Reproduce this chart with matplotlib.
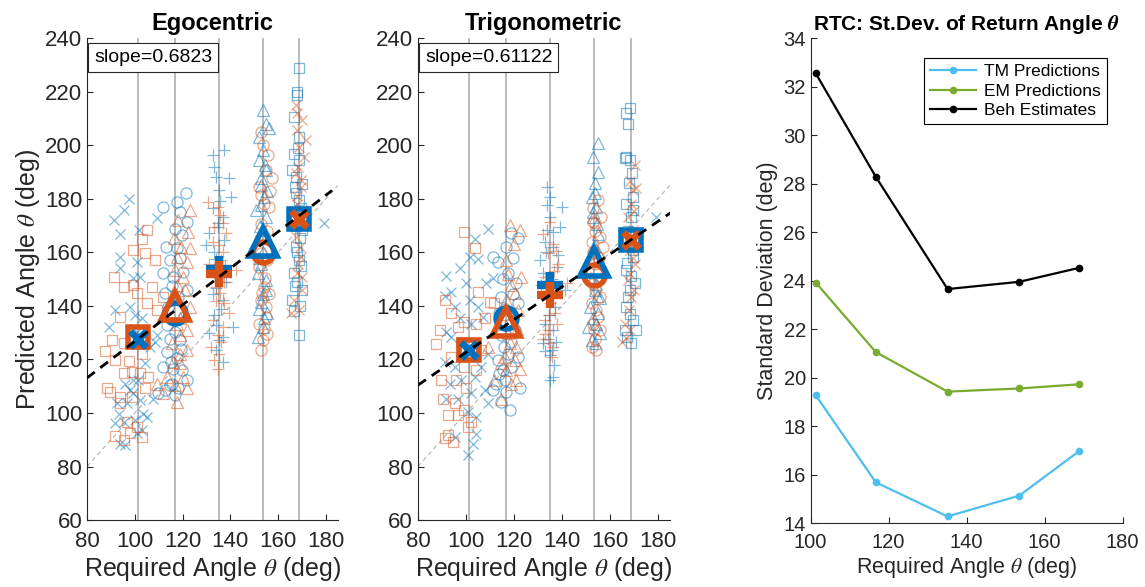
import matplotlib
matplotlib.use("Agg")

import matplotlib.pyplot as plt

plt.rcParams["font.family"] = ["Liberation Sans", "DejaVu Sans"]
plt.rcParams["mathtext.fontset"] = "stix"

BLUE = "#0072BD"
ORANGE = "#D95319"
AXIS_GREY = "#262626"

# required return angles (deg) for the five trial conditions
REQ_ANGLE = [101.3, 116.7, 135.1, 153.5, 168.7]
BLUE_MARKERS = ["x", "o", "+", "^", "s"]
ORANGE_MARKERS = ["s", "^", "+", "o", "x"]

# --- Egocentric model: per-trial (required, predicted) angles ---
EGO_BLUE = [
    [(97.4, 179.8), (95.3, 175.8), (91.1, 172.0), (93.9, 167.0), (101.9, 168.3), (109.4, 172.7),
     (93.9, 158.4), (93.9, 154.0), (100.8, 156.5), (91.8, 138.4), (89.0, 132.2), (97.8, 139.7),
     (100.1, 136.6), (102.2, 150.9), (99.4, 150.3), (106.4, 124.7), (108.5, 126.6), (104.3, 118.5),
     (96.0, 111.0), (99.4, 112.3), (92.5, 103.6), (93.2, 99.8), (96.7, 103.6), (99.4, 107.3),
     (102.2, 104.8), (103.6, 99.8), (100.1, 97.3), (95.3, 96.7), (91.8, 96.1), (93.9, 88.6),
     (96.0, 88.0), (102.9, 93.6), (100.8, 92.4), (105.0, 98.6), (107.8, 105.4), (101.5, 112.3),
     (100.8, 130.3), (98.0, 108.5), (109.2, 129.1), (102.9, 135.3), (179.2, 170.8)],
    [(121.4, 182.3), (117.5, 178.9), (111.9, 177.0), (118.9, 175.2), (121.7, 171.4), (116.8, 168.9),
     (119.6, 166.4), (117.5, 161.5), (114.7, 157.1), (111.9, 152.1), (116.1, 150.9), (121.7, 145.9),
     (112.6, 144.7), (118.2, 143.4), (114.0, 139.7), (116.8, 130.3), (114.7, 127.8), (118.9, 127.2),
     (113.3, 122.9), (117.5, 120.4), (111.9, 117.3), (116.1, 116.6), (119.6, 116.0), (115.4, 111.0),
     (112.6, 108.5), (116.8, 106.7), (114.7, 110.4), (121.7, 112.3), (109.9, 107.3), (119.0, 158.0),
     (115.5, 147.5), (120.5, 136.0), (113.5, 133.0), (119.5, 124.0), (115.0, 119.0), (118.0, 109.5),
     (120.0, 152.5), (113.0, 162.0)],
    [(132.6, 196.3), (137.5, 198.2), (133.3, 191.9), (139.6, 187.6), (134.0, 188.2), (135.4, 183.2),
     (140.3, 180.7), (132.6, 176.4), (136.8, 173.3), (131.2, 167.1), (137.5, 164.6), (133.3, 160.2),
     (135.4, 152.1), (138.2, 149.0), (132.6, 144.6), (136.8, 142.1), (133.3, 136.5), (141.0, 132.2),
     (131.2, 129.7), (135.4, 127.2), (134.0, 123.5), (136.8, 119.1), (129.9, 162.7), (134.7, 169.5),
     (135.8, 179.0), (133.8, 157.5), (137.8, 155.0), (134.2, 146.5), (136.0, 139.0), (133.8, 133.0),
     (137.0, 128.5), (135.0, 171.0)],
    [(153.5, 213.1), (154.9, 208.1), (156.2, 206.3), (152.1, 203.2), (153.5, 198.2), (152.1, 194.4),
     (154.9, 190.7), (152.8, 187.6), (154.2, 180.7), (150.7, 175.8), (154.9, 173.3), (152.8, 155.8),
     (151.4, 152.1), (154.9, 149.6), (153.5, 144.6), (152.1, 139.0), (155.5, 137.2), (153.5, 132.2),
     (151.4, 128.4), (154.2, 135.3), (153.0, 185.0), (155.5, 183.0), (152.5, 170.0), (154.0, 168.5),
     (153.8, 160.0), (152.0, 158.0), (155.0, 146.0), (153.0, 141.5), (152.8, 177.5), (154.5, 192.5)],
    [(168.7, 228.7), (168.1, 220.0), (168.1, 218.7), (166.7, 210.6), (168.7, 203.2), (166.7, 196.9),
     (168.7, 194.4), (166.0, 190.7), (170.1, 185.7), (167.4, 182.0), (168.7, 179.5), (166.7, 173.3),
     (170.1, 168.3), (167.4, 162.1), (168.7, 157.1), (166.7, 152.1), (170.1, 145.9), (166.0, 142.1),
     (168.7, 129.1), (168.1, 149.0), (167.5, 188.0), (169.5, 176.5), (167.0, 170.0), (169.0, 165.5),
     (167.8, 160.0), (169.5, 155.0), (167.0, 147.5), (169.0, 140.0), (166.5, 138.0), (168.3, 199.0),
     (167.2, 184.5)],
]
EGO_ORANGE = [
    [(105.0, 168.3), (102.9, 164.8), (99.4, 160.8), (104.3, 159.6), (108.5, 157.1), (91.1, 150.9),
     (95.3, 147.1), (100.8, 144.7), (107.1, 147.1), (99.4, 147.8), (105.0, 140.9), (93.9, 135.9),
     (109.2, 138.4), (90.4, 127.2), (95.3, 126.2), (87.6, 123.1), (91.8, 119.7), (97.4, 119.5),
     (102.9, 122.2), (95.3, 115.0), (98.8, 115.4), (102.2, 114.8), (105.7, 113.5), (88.3, 109.5),
     (89.7, 107.9), (104.3, 109.5), (93.9, 103.6), (98.8, 106.1), (96.7, 96.7), (98.0, 92.6),
     (100.8, 94.8), (102.9, 90.9), (91.8, 91.4), (95.3, 89.9), (111.9, 143.4), (93.9, 106.1)],
    [(123.0, 175.8), (118.2, 172.0), (122.4, 167.7), (116.4, 165.2), (123.0, 161.5), (117.5, 158.4),
     (121.7, 156.5), (116.8, 153.4), (120.3, 150.9), (117.5, 147.8), (123.0, 139.7), (117.5, 133.4),
     (118.9, 129.1), (121.7, 123.5), (116.1, 119.1), (118.9, 118.5), (113.3, 113.5), (109.2, 111.0),
     (111.9, 107.3), (121.7, 109.2), (117.5, 104.2), (120.3, 113.5), (119.5, 162.0), (116.0, 144.0),
     (121.0, 146.0), (119.0, 135.5), (122.0, 131.0), (115.5, 126.0), (119.0, 122.0), (117.0, 110.5)],
    [(130.6, 178.9), (134.7, 177.0), (136.8, 170.8), (133.3, 169.5), (138.2, 167.1), (132.6, 163.9),
     (136.1, 157.1), (142.4, 153.3), (134.0, 147.1), (137.5, 140.9), (132.6, 134.7), (136.8, 132.2),
     (134.7, 129.1), (131.9, 124.7), (135.4, 122.2), (133.3, 119.7), (139.6, 137.2), (135.4, 162.7),
     (131.2, 155.8), (135.5, 174.0), (137.0, 160.0), (133.6, 152.0), (135.8, 145.0), (134.0, 142.0),
     (136.2, 126.5), (134.8, 116.5), (137.5, 149.0)],
    [(152.8, 205.0), (154.9, 190.7), (157.6, 187.6), (152.1, 184.5), (154.2, 178.2), (156.2, 177.0),
     (152.8, 159.6), (155.5, 157.1), (152.1, 154.6), (154.2, 147.1), (156.2, 144.6), (152.8, 142.1),
     (154.9, 139.7), (152.1, 133.4), (154.2, 131.6), (153.5, 127.2), (152.8, 123.5), (154.9, 135.9),
     (153.5, 200.0), (155.8, 196.5), (153.0, 170.5), (155.5, 168.0), (152.5, 165.0), (154.5, 150.5),
     (153.2, 145.0), (155.2, 129.5), (153.0, 181.5), (156.5, 183.0)],
    [(167.4, 215.0), (170.1, 209.4), (168.1, 205.6), (171.5, 201.9), (168.7, 199.4), (170.8, 195.7),
     (167.4, 189.5), (169.4, 184.5), (168.1, 178.2), (170.1, 173.3), (167.4, 165.8), (169.4, 158.4),
     (168.1, 152.1), (166.7, 142.1), (165.3, 137.2), (168.7, 138.4), (170.1, 150.9), (168.5, 192.0),
     (169.5, 187.0), (168.0, 181.0), (170.5, 176.0), (167.5, 170.0), (169.2, 162.0), (168.5, 155.5),
     (170.0, 146.0), (167.8, 212.0)],
]
EGO_BLUE_MEAN = [127.5, 137.2, 153.6, 164.0, 172.6]
EGO_ORANGE_MEAN = [128.3, 139.8, 151.8, 160.2, 172.3]
EGO_SLOPE = 0.6823
EGO_FIT_AT_80 = 113.1

# --- Trigonometric model ---
TRIG_BLUE = [
    [(109.4, 168.9), (103.6, 164.8), (101.5, 158.4), (105.0, 157.7), (97.4, 154.0), (91.8, 151.1),
     (100.1, 148.4), (108.5, 148.4), (111.3, 150.3), (93.9, 145.3), (91.1, 143.7), (101.5, 142.2),
     (95.3, 139.7), (105.0, 139.7), (97.4, 135.3), (91.8, 130.3), (102.2, 133.4), (107.1, 135.9),
     (93.9, 128.5), (102.9, 123.5), (109.2, 122.2), (91.1, 119.1), (95.3, 117.3), (106.4, 117.3),
     (98.0, 112.3), (103.6, 113.5), (93.2, 111.0), (91.8, 105.4), (96.7, 105.4), (102.2, 107.3),
     (109.2, 103.6), (100.8, 100.4), (104.3, 98.6), (104.3, 92.3), (102.9, 88.6), (100.8, 84.3),
     (95.3, 91.1), (107.8, 108.5), (179.4, 173.3)],
    [(118.9, 167.1), (121.7, 165.2), (116.8, 162.1), (111.3, 158.4), (113.3, 156.5), (117.5, 152.1),
     (121.0, 148.4), (114.7, 143.4), (121.7, 140.9), (114.0, 137.2), (118.2, 133.4), (114.7, 129.1),
     (118.9, 126.6), (113.3, 119.8), (117.5, 122.2), (121.7, 121.0), (115.4, 116.0), (112.6, 111.0),
     (116.8, 107.9), (114.7, 104.2), (118.2, 101.1), (122.4, 109.2), (111.3, 108.5), (116.1, 112.3),
     (119.5, 158.0), (115.5, 150.0), (119.5, 144.5), (116.5, 139.0), (120.5, 131.0), (116.0, 124.5),
     (119.0, 117.0), (114.0, 114.5)],
    [(133.6, 184.5), (135.0, 180.8), (133.6, 177.6), (139.9, 177.0), (139.2, 169.5), (135.0, 173.3),
     (132.9, 164.0), (136.4, 162.1), (130.8, 157.1), (138.5, 159.0), (132.2, 152.1), (141.2, 145.9),
     (134.3, 143.4), (137.1, 139.7), (132.9, 133.4), (136.4, 130.9), (134.3, 127.8), (132.2, 126.0),
     (135.7, 123.5), (135.0, 121.6), (136.4, 113.5), (135.0, 112.3), (137.8, 154.6), (131.5, 147.7),
     (136.5, 167.5), (134.0, 168.5), (133.5, 160.0), (136.0, 150.0), (134.8, 136.5), (133.0, 123.0),
     (136.8, 118.0), (137.5, 126.5)],
    [(155.1, 200.7), (153.1, 195.7), (155.1, 190.1), (153.8, 182.0), (152.4, 180.8), (154.4, 177.0),
     (153.1, 173.3), (155.1, 167.0), (153.8, 145.9), (155.8, 142.8), (151.7, 139.7), (155.1, 137.2),
     (151.0, 132.2), (154.4, 133.4), (155.8, 129.7), (152.4, 127.2), (153.8, 126.0), (154.0, 186.0),
     (152.8, 175.0), (154.8, 170.5), (153.5, 162.5), (155.0, 160.0), (152.5, 150.0), (154.2, 148.0),
     (153.0, 135.5), (154.6, 143.8)],
    [(168.3, 213.8), (166.9, 211.9), (167.6, 208.1), (166.9, 195.7), (168.3, 194.4), (166.3, 195.1),
     (169.7, 180.8), (166.9, 178.2), (169.0, 173.3), (168.3, 164.6), (169.7, 158.4), (166.9, 153.4),
     (170.4, 148.4), (168.3, 145.9), (166.9, 139.7), (169.7, 134.7), (166.3, 130.9), (171.1, 130.9),
     (169.0, 126.0), (167.6, 143.4), (168.0, 186.0), (169.5, 176.0), (167.5, 168.0), (169.8, 161.0),
     (167.0, 156.0), (168.8, 151.0), (168.5, 137.0), (167.3, 128.5), (169.2, 189.5)],
]
TRIG_ORANGE = [
    [(99.4, 167.7), (103.6, 161.5), (105.0, 145.3), (91.1, 142.2), (93.9, 137.2), (109.9, 141.5),
     (107.8, 135.3), (99.4, 134.1), (89.0, 130.9), (96.7, 132.2), (104.3, 133.4), (87.6, 125.7),
     (98.0, 126.6), (106.4, 123.5), (93.9, 121.0), (99.4, 117.3), (89.7, 112.5), (96.0, 112.3),
     (104.3, 116.0), (100.1, 109.2), (90.4, 105.4), (95.3, 103.6), (99.4, 101.1), (92.5, 99.2),
     (96.7, 99.2), (102.2, 96.7), (100.8, 94.8), (92.5, 91.7), (91.1, 90.5), (94.6, 89.2),
     (111.9, 140.9)],
    [(118.2, 170.2), (122.4, 168.3), (116.8, 157.1), (123.0, 150.9), (118.9, 147.8), (120.3, 144.7),
     (116.8, 142.2), (121.7, 138.4), (117.5, 129.7), (109.2, 124.7), (121.0, 124.7), (116.1, 121.0),
     (120.3, 119.8), (116.8, 116.0), (122.4, 116.6), (111.9, 112.3), (118.9, 111.0), (114.7, 105.4),
     (120.0, 163.0), (117.5, 152.0), (121.5, 131.5), (118.5, 126.0), (114.5, 118.5), (121.0, 112.5),
     (117.0, 137.0)],
    [(135.0, 171.4), (132.2, 167.0), (136.4, 163.3), (134.3, 159.6), (138.5, 155.8), (132.9, 150.9),
     (142.0, 148.4), (135.0, 140.9), (137.1, 137.2), (132.9, 134.7), (137.8, 133.4), (134.3, 130.9),
     (132.2, 127.8), (136.4, 124.7), (135.0, 126.0), (136.6, 153.0), (133.8, 146.5), (137.5, 145.0),
     (134.5, 136.5), (136.0, 121.0), (133.0, 129.5), (137.6, 160.5)],
    [(155.1, 179.5), (153.1, 176.4), (156.5, 173.3), (153.8, 170.8), (155.8, 165.8), (152.4, 164.0),
     (157.2, 162.1), (153.8, 145.9), (155.8, 143.4), (152.4, 140.9), (154.4, 138.4), (153.1, 133.4),
     (155.8, 130.9), (153.8, 127.8), (154.4, 123.5), (152.4, 124.7), (154.0, 168.0), (152.8, 160.0),
     (155.5, 158.0), (154.0, 155.5), (153.0, 148.0), (155.0, 136.0), (153.5, 131.0), (156.0, 150.0),
     (152.8, 171.5)],
    [(170.4, 192.6), (169.7, 183.2), (171.1, 183.9), (169.0, 178.2), (167.6, 173.3), (169.7, 168.3),
     (168.3, 160.8), (170.4, 155.8), (167.6, 149.6), (169.0, 143.4), (166.3, 133.4), (164.9, 126.6),
     (168.3, 130.9), (168.5, 186.5), (170.0, 175.5), (167.8, 165.0), (169.5, 158.0), (168.2, 152.0),
     (170.2, 146.0), (168.0, 138.5), (166.8, 128.0)],
]
TRIG_BLUE_MEAN = [123.5, 135.3, 147.7, 156.5, 164.6]
TRIG_ORANGE_MEAN = [123.5, 134.0, 144.0, 151.5, 164.6]
TRIG_SLOPE = 0.61122
TRIG_FIT_AT_80 = 110.4

# --- return-angle standard deviations (deg) ---
TM_SD = [19.27, 15.68, 14.27, 15.13, 16.95]
EM_SD = [23.92, 21.05, 19.42, 19.55, 19.72]
BEH_SD = [32.55, 28.28, 23.65, 23.95, 24.52]

SMALL_MS = {"x": 7, "o": 8, "+": 8, "^": 8, "s": 7}
BIG_STYLE = {"s": (15, 4), "^": (20, 4), "o": (15, 4), "+": (19, 6), "x": (12, 5)}


def style_axes(ax, fontsize, xpad):
    for side in ("top", "right"):
        ax.spines[side].set_visible(False)
    for side in ("left", "bottom"):
        ax.spines[side].set_color(AXIS_GREY)
        ax.spines[side].set_linewidth(0.8)
    ax.tick_params(direction="in", length=4, width=0.8, colors=AXIS_GREY,
                   labelsize=fontsize, labelcolor=AXIS_GREY)
    ax.tick_params(axis="x", pad=xpad)


def draw_model_panel(ax, title, blue_pts, orange_pts, blue_mean, orange_mean,
                     slope, fit_at_80, fit_end, slope_label):
    for xv in REQ_ANGLE:
        ax.axvline(xv, color="#a8a8a8", lw=1.1, zorder=1)
    ax.plot([80, 185], [80, 185], color="#b4b4b4", lw=0.8, dashes=(4, 3), zorder=2)

    for pts, mk in zip(blue_pts, BLUE_MARKERS):
        ax.plot([p[0] for p in pts], [p[1] for p in pts], ls="none", marker=mk,
                ms=SMALL_MS[mk], mfc="none", mec=BLUE, mew=0.9, alpha=0.5, zorder=3)
    for pts, mk in zip(orange_pts, ORANGE_MARKERS):
        ax.plot([p[0] for p in pts], [p[1] for p in pts], ls="none", marker=mk,
                ms=SMALL_MS[mk], mfc="none", mec=ORANGE, mew=0.9, alpha=0.5, zorder=3)

    # condition means, x and triangle markers sit on top of squares and circles
    for xv, yv, mk in zip(REQ_ANGLE, blue_mean, BLUE_MARKERS):
        ms, mew = BIG_STYLE[mk]
        z = 5 + (1 if mk in ("x", "^") else 0)
        ax.plot(xv, yv, ls="none", marker=mk, ms=ms, mfc="none", mec=BLUE, mew=mew, zorder=z)
    for xv, yv, mk in zip(REQ_ANGLE, orange_mean, ORANGE_MARKERS):
        ms, mew = BIG_STYLE[mk]
        z = 5.1 + (1 if mk in ("x", "^", "+") else 0)
        ax.plot(xv, yv, ls="none", marker=mk, ms=ms, mfc="none", mec=ORANGE, mew=mew, zorder=z)

    fx = [80, fit_end]
    ax.plot(fx, [fit_at_80 + slope * (v - 80) for v in fx], color="black", lw=2,
            dashes=(3.5, 2.5), zorder=8)

    ax.set_xlim(80, 185)
    ax.set_ylim(60, 240)
    ax.set_xticks(range(80, 181, 20))
    ax.set_yticks(range(60, 241, 20))
    style_axes(ax, 16, 8)
    ax.set_title(title, fontsize=17, fontweight="bold", pad=6)
    ax.set_xlabel(r"Required Angle $\theta$ (deg)", fontsize=18, color=AXIS_GREY, labelpad=2)
    ax.text(0.028, 0.977, slope_label, transform=ax.transAxes, ha="left", va="top",
            fontsize=14, zorder=10,
            bbox=dict(boxstyle="square,pad=0.3", fc="white", ec=AXIS_GREY, lw=0.8))


fig = plt.figure(figsize=(11.45, 5.87), dpi=100)
ax1 = fig.add_axes([0.076, 0.114, 0.219, 0.821])
ax2 = fig.add_axes([0.365, 0.114, 0.220, 0.821])
ax3 = fig.add_axes([0.708, 0.109, 0.2725, 0.826])

draw_model_panel(ax1, "Egocentric", EGO_BLUE, EGO_ORANGE, EGO_BLUE_MEAN, EGO_ORANGE_MEAN,
                 EGO_SLOPE, EGO_FIT_AT_80, 182.6, f"slope={EGO_SLOPE}")
ax1.set_ylabel(r"Predicted Angle $\theta$ (deg)", fontsize=18, color=AXIS_GREY, labelpad=2)
draw_model_panel(ax2, "Trigonometric", TRIG_BLUE, TRIG_ORANGE, TRIG_BLUE_MEAN, TRIG_ORANGE_MEAN,
                 TRIG_SLOPE, TRIG_FIT_AT_80, 186, f"slope={TRIG_SLOPE}")

ax3.plot(REQ_ANGLE, TM_SD, color="#4DBEEE", lw=1.6, marker="o", ms=4.5, label="TM Predictions")
ax3.plot(REQ_ANGLE, EM_SD, color="#77AC30", lw=1.6, marker="o", ms=4.5, label="EM Predictions")
ax3.plot(REQ_ANGLE, BEH_SD, color="black", lw=1.6, marker="o", ms=4.5, label="Beh Estimates")
ax3.set_xlim(100, 180)
ax3.set_ylim(14, 34)
ax3.set_xticks(range(100, 181, 20))
ax3.set_yticks(range(14, 35, 2))
style_axes(ax3, 14.5, 7)
ax3.set_title(r"RTC: St.Dev. of Return Angle $\boldsymbol{\theta}$", fontsize=15,
              fontweight="bold", pad=6)
ax3.set_xlabel(r"Required Angle $\theta$ (deg)", fontsize=15.5, color=AXIS_GREY, labelpad=2)
ax3.set_ylabel("Standard Deviation (deg)", fontsize=15.5, color=AXIS_GREY)
leg = ax3.legend(loc="upper right", bbox_to_anchor=(0.978, 0.977), fontsize=12.5,
                 fancybox=False, framealpha=1, edgecolor="black", handlelength=2.6,
                 borderpad=0.35, labelspacing=0.25, handletextpad=0.5)
leg.get_frame().set_linewidth(0.8)

fig.savefig("out.png", dpi=100)
